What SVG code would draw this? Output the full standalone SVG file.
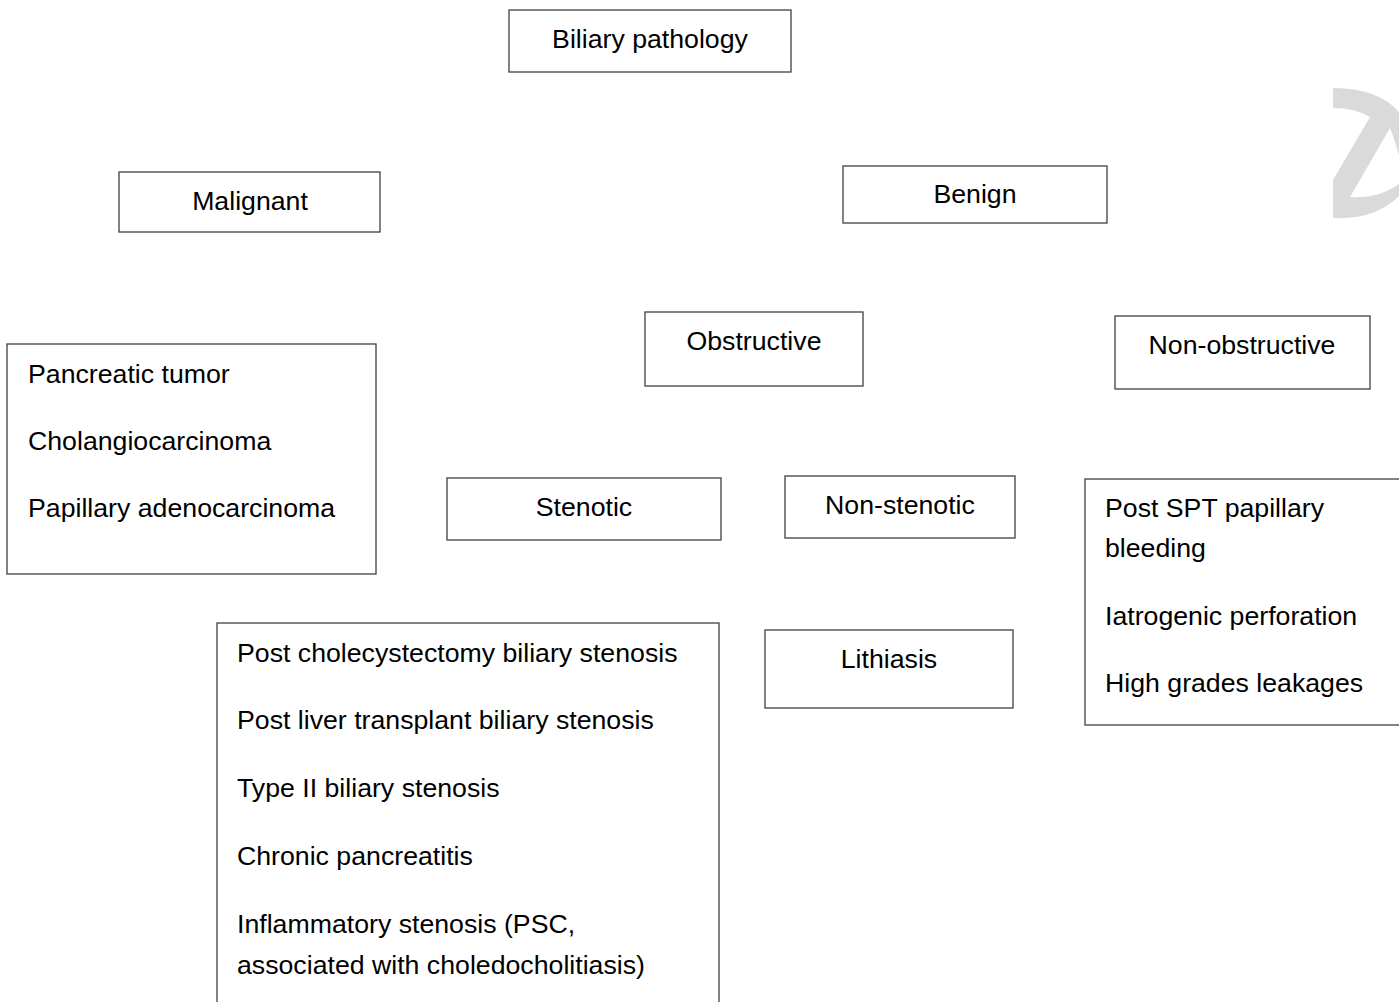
<svg xmlns="http://www.w3.org/2000/svg" width="1399" height="1002" viewBox="0 0 1399 1002">
<style>
  .box { fill: #ffffff; stroke: #404040; stroke-width: 1.3; }
  .t { font-family: "Liberation Sans", Arial, sans-serif; font-size: 26.7px; fill: #000000; }
  .c { text-anchor: middle; }
  .logo { fill: #dadada; }
  .hole { fill: #ffffff; }
</style>
<rect width="1399" height="1002" fill="#ffffff"/>
<g id="logo">
  <path class="logo" d="M1333,88 Q1378,88 1399,112 L1399,196 Q1375,220 1333,218 Z"/>
  <path class="hole" d="M1333,108 Q1355,108 1370,117 L1333,180 Z"/>
  <path class="hole" d="M1390,128 L1350,197 Q1378,199 1399,184 L1399,156 Q1395,140 1390,128 Z"/>
</g>
<g id="connectors"/>
<g id="biliary-pathology">
  <rect class="box" x="509" y="10" width="282" height="62"/>
  <text class="t c" x="650" y="48">Biliary pathology</text>
</g>
<g id="malignant">
  <rect class="box" x="119" y="172" width="261" height="60"/>
  <text class="t c" x="250" y="210">Malignant</text>
</g>
<g id="benign">
  <rect class="box" x="843" y="166" width="264" height="57"/>
  <text class="t c" x="975" y="203">Benign</text>
</g>
<g id="obstructive">
  <rect class="box" x="645" y="312" width="218" height="74"/>
  <text class="t c" x="754" y="350">Obstructive</text>
</g>
<g id="non-obstructive">
  <rect class="box" x="1115" y="316" width="255" height="73"/>
  <text class="t c" x="1242" y="354">Non-obstructive</text>
</g>
<g id="malignant-list">
  <rect class="box" x="7" y="344" width="369" height="230"/>
  <text class="t" x="28" y="383">Pancreatic tumor</text>
  <text class="t" x="28" y="450">Cholangiocarcinoma</text>
  <text class="t" x="28" y="517">Papillary adenocarcinoma</text>
</g>
<g id="stenotic">
  <rect class="box" x="447" y="478" width="274" height="62"/>
  <text class="t c" x="584" y="516">Stenotic</text>
</g>
<g id="non-stenotic">
  <rect class="box" x="785" y="476" width="230" height="62"/>
  <text class="t c" x="900" y="514">Non-stenotic</text>
</g>
<g id="non-obstructive-list">
  <rect class="box" x="1085" y="479" width="330" height="246"/>
  <text class="t" x="1105" y="517">Post SPT papillary</text>
  <text class="t" x="1105" y="557">bleeding</text>
  <text class="t" x="1105" y="625">Iatrogenic perforation</text>
  <text class="t" x="1105" y="692">High grades leakages</text>
</g>
<g id="lithiasis">
  <rect class="box" x="765" y="630" width="248" height="78"/>
  <text class="t c" x="889" y="668">Lithiasis</text>
</g>
<g id="stenotic-list">
  <rect class="box" x="217" y="623" width="502" height="400"/>
  <text class="t" x="237" y="662">Post cholecystectomy biliary stenosis</text>
  <text class="t" x="237" y="729">Post liver transplant biliary stenosis</text>
  <text class="t" x="237" y="797">Type II biliary stenosis</text>
  <text class="t" x="237" y="865">Chronic pancreatitis</text>
  <text class="t" x="237" y="933">Inflammatory stenosis (PSC,</text>
  <text class="t" x="237" y="974">associated with choledocholitiasis)</text>
</g>
</svg>
